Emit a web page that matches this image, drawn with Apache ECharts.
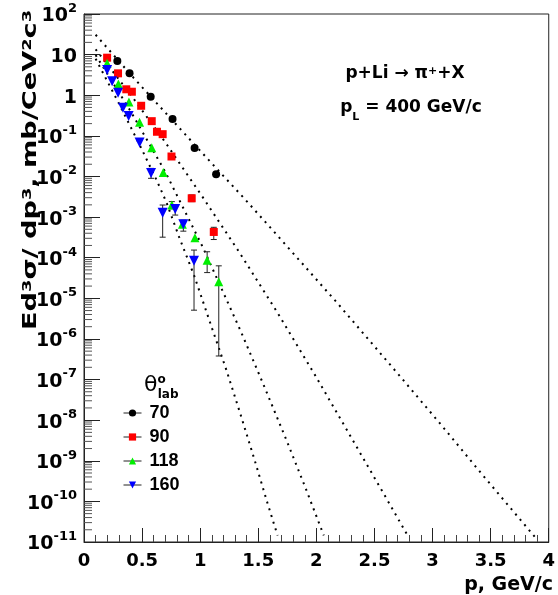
<!DOCTYPE html>
<html><head><meta charset="utf-8">
<script src="https://cdn.jsdelivr.net/npm/echarts@6/dist/echarts.min.js"></script>
<style>html,body{margin:0;padding:0;background:#fff}#c{width:558px;height:595px}</style>
</head><body><div id="c"></div>
<script>
// ---- data ----
const xTickLabels = ['0','0.5','1','1.5','2','2.5','3','3.5','4'];
const seriesNames = ['70','90','118','160'];

const p70 = [0.287, 0.392, 0.574, 0.762, 0.952, 1.137];
const v70 = [6.95, 3.5, 0.92, 0.26, 0.05, 0.0114];
const p90 = [0.199, 0.293, 0.364, 0.412, 0.492, 0.583, 0.628, 0.677, 0.753, 0.927, 1.117];
const v90 = [8.4, 3.46, 1.4, 1.22, 0.55, 0.23, 0.126, 0.11, 0.031, 0.0029, 4.3e-4];
const p118 = [0.199, 0.296, 0.387, 0.478, 0.583, 0.682, 0.756, 0.847, 0.955, 1.06, 1.16];
const v118 = [6.1, 1.9, 0.68, 0.215, 0.051, 0.0126, 0.00198, 6.7e-4, 3.1e-4, 8.7e-5, 2.55e-5];
const p160 = [0.199, 0.242, 0.293, 0.335, 0.384, 0.478, 0.577, 0.677, 0.785, 0.855, 0.947];
const v160 = [4.2, 2.2, 1.15, 0.49, 0.31, 0.069, 0.0121, 0.00128, 0.00157, 6.7e-4, 8.4e-5];

// error bars: p, low, high
const e90P = [0.927, 1.117], e90Lo = [0.0024, 2.8e-4], e90Hi = [0.0035, 5.6e-4];
const e118P = [0.756, 1.06, 1.16], e118Lo = [0.0016, 4.3e-5, 3.8e-7], e118Hi = [0.0024, 1.4e-4, 6.3e-5];
const e160P = [0.577, 0.677, 0.785, 0.855, 0.947];
const e160Lo = [0.009, 3.2e-4, 1.12e-3, 4.5e-4, 5.1e-6];
const e160Hi = [0.0158, 1.98e-3, 1.98e-3, 8.4e-4, 1.54e-4];

// dotted fit curves
const c70P = [0.1, 0.426, 0.748, 1.06, 1.382, 1.7, 2.183, 2.695, 3.064, 3.42, 3.904];
const c70V = [30.9, 2.70, 0.264, 0.0279, 2.82e-3, 2.71e-4, 7.48e-6, 1.46e-7, 8.3e-9, 4.86e-10, 1.11e-11];
const c90P = [0.1, 0.4, 0.7, 1.023, 1.345, 1.666, 1.985, 2.263, 2.587, 2.789];
const c90V = [13.5, 1.05, 0.069, 3.05e-3, 1.25e-4, 4.4e-6, 1.34e-7, 5.7e-9, 1.42e-10, 1.39e-11];
const c118P = [0.1, 0.4, 0.7, 1.023, 1.345, 1.544, 1.743, 1.905, 2.064];
const c118V = [9.8, 0.41, 0.0129, 1.8e-4, 1.65e-6, 7.6e-8, 3.2e-9, 2.2e-10, 1.45e-11];
const c160P = [0.1, 0.3, 0.5, 0.625, 0.71, 0.819, 0.947, 1.103, 1.226, 1.345, 1.464, 1.58, 1.666];
const c160V = [7.9, 0.63, 0.045, 8.1e-3, 2.3e-3, 3.2e-4, 3.7e-5, 1.8e-6, 1.7e-7, 1.45e-8, 1.15e-9, 8.9e-11, 1.45e-11];

// ---- build ----
const zip = (a, b) => a.map((x, i) => [x, b[i]]);
const zip3 = (a, b, c) => a.map((x, i) => [x, b[i], c[i]]);
const minorVals = [];
for (let e = -11; e <= 1; e++) for (let k = 2; k <= 9; k++) minorVals.push(k * Math.pow(10, e));

const FONT = 'DejaVu Sans';
const chart = echarts.init(document.getElementById('c'), null, {renderer: 'canvas'});

function curve(name, P, V) {
  return {
    type: 'line', name: name, data: zip(P, V), showSymbol: false, silent: true, smooth: false, z: 2,
    lineStyle: {color: '#000', width: 2, type: [2, 5], cap: 'butt'}
  };
}
function errs(P, Lo, Hi) {
  return {
    type: 'custom', silent: true, z: 3, data: zip3(P, Lo, Hi), encode: {x: 0, y: [1, 2]},
    renderItem: function (params, api) {
      const x = api.value(0);
      const a = api.coord([x, api.value(2)]);
      const b = api.coord([x, api.value(1)]);
      const w = 3;
      const st = {stroke: '#222', lineWidth: 1};
      return {type: 'group', children: [
        {type: 'line', shape: {x1: a[0], y1: a[1], x2: b[0], y2: b[1]}, style: st},
        {type: 'line', shape: {x1: a[0] - w, y1: a[1], x2: a[0] + w, y2: a[1]}, style: st},
        {type: 'line', shape: {x1: b[0] - w, y1: b[1], x2: b[0] + w, y2: b[1]}, style: st}
      ]};
    }
  };
}
function pts(name, P, V, sym, size, color, rot) {
  return {
    type: 'line', name: name, data: zip(P, V), symbol: sym, symbolSize: size, symbolRotate: rot || 0,
    showSymbol: true, z: 5, lineStyle: {opacity: 0, width: 0},
    itemStyle: {color: color, borderWidth: 0, opacity: 1}
  };
}

const option = {
  animation: false,
  grid: {left: 84, right: 5, top: 14, bottom: 53, show: true, borderColor: '#222', borderWidth: 1},
  xAxis: {
    type: 'value', min: 0, max: 4, interval: 0.5,
    axisLine: {lineStyle: {color: '#222', width: 1}},
    axisTick: {inside: true, length: 14, lineStyle: {color: '#222'}},
    minorTick: {show: true, splitNumber: 5, length: 7, lineStyle: {color: '#444'}},
    splitLine: {show: false},
    axisLabel: {margin: 10, color: '#000', fontFamily: FONT, fontWeight: 'bold', fontSize: 18,
      formatter: function (v) { return xTickLabels[Math.round(v / 0.5)]; }}
  },
  yAxis: {
    type: 'log', logBase: 10, min: 1e-11, max: 100, interval: 1,
    axisLine: {lineStyle: {color: '#222', width: 1}},
    axisTick: {inside: true, length: 16, lineStyle: {color: '#222'}},
    splitLine: {show: false},
    axisLabel: {margin: 7, color: '#000',
      formatter: function (v) {
        const e = Math.round(Math.log10(v));
        if (e === 0) return '{b|1}';
        if (e === 1) return '{b|10}';
        return '{b|10}{s|' + e + '}';
      },
      rich: {
        b: {fontFamily: FONT, fontWeight: 'bold', fontSize: 19, color: '#000', lineHeight: 24, verticalAlign: 'bottom'},
        s: {fontFamily: FONT, fontWeight: 'bold', fontSize: 13, color: '#000', lineHeight: 14, verticalAlign: 'top'}
      }
    }
  },
  legend: {
    data: seriesNames, orient: 'vertical', left: 118, top: 399,
    itemWidth: 18, itemHeight: 9, itemGap: 6,
    lineStyle: {color: '#222', width: 1, opacity: 1},
    textStyle: {fontFamily: 'Liberation Sans', fontWeight: 'bold', fontSize: 18, color: '#000',
      padding: [0, 0, 0, 3], lineHeight: 14}
  },
  graphic: [
    {type: 'text', x: 31, y: 170, rotation: Math.PI / 2, scaleX: 1.36, silent: true,
      style: {text: 'Ed{u|3}σ/ dp{u|3}, mb/CeV{u|2}c{u|3}', align: 'center', verticalAlign: 'middle',
        fill: '#000', font: 'bold 20px "DejaVu Sans"',
        rich: {u: {fontFamily: FONT, fontWeight: 'bold', fontSize: 13, verticalAlign: 'top', lineHeight: 14}}}},
    {type: 'text', x: 553, y: 585, silent: true,
      style: {text: 'p, GeV/c', align: 'right', verticalAlign: 'middle', fill: '#000', font: 'bold 19px "DejaVu Sans"'}},
    {type: 'text', x: 405, y: 74, silent: true,
      style: {text: 'p+Li → π{u|+}+X', align: 'center', verticalAlign: 'middle', fill: '#000',
        font: 'bold 17px "DejaVu Sans"',
        rich: {u: {fontFamily: FONT, fontWeight: 'bold', fontSize: 11, verticalAlign: 'top', lineHeight: 12}}}},
    {type: 'text', x: 411, y: 108, silent: true,
      style: {text: 'p{d|L} = 400 GeV/c', align: 'center', verticalAlign: 'middle', fill: '#000',
        font: 'bold 17px "DejaVu Sans"',
        rich: {d: {fontFamily: FONT, fontWeight: 'bold', fontSize: 11, verticalAlign: 'bottom', lineHeight: 12, padding: [0, 0, -6, 0]}}}},
    {type: 'text', x: 144, y: 385, silent: true,
      style: {text: 'θ{o|o}{l|lab}', align: 'left', verticalAlign: 'middle', fill: '#000',
        font: '22px "DejaVu Sans"',
        rich: {o: {fontFamily: FONT, fontWeight: 'bold', fontSize: 12, verticalAlign: 'top', lineHeight: 14},
               l: {fontFamily: FONT, fontWeight: 'bold', fontSize: 12, verticalAlign: 'bottom', lineHeight: 12, padding: [0, 0, -5, -8]}}}}
  ],
  series: [
    curve('c70', c70P, c70V), curve('c90', c90P, c90V), curve('c118', c118P, c118V), curve('c160', c160P, c160V),
    {type: 'custom', silent: true, z: 4, clip: false, data: minorVals.map(v => [0, v]), encode: {x: 0, y: 1},
      renderItem: function (params, api) {
        const pt = api.coord([0, api.value(1)]);
        return {type: 'line', shape: {x1: pt[0], y1: pt[1], x2: pt[0] + 8, y2: pt[1]}, style: {stroke: '#555', lineWidth: 1}};
      }},
    errs(e90P, e90Lo, e90Hi), errs(e118P, e118Lo, e118Hi), errs(e160P, e160Lo, e160Hi),
    pts('70', p70, v70, 'circle', 8, '#000'),
    pts('90', p90, v90, 'rect', 8, '#ff0000'),
    pts('118', p118, v118, 'triangle', 9, '#00ee00'),
    pts('160', p160, v160, 'triangle', 10, '#0000ff', 180)
  ]
};
chart.setOption(option);
</script></body></html>
